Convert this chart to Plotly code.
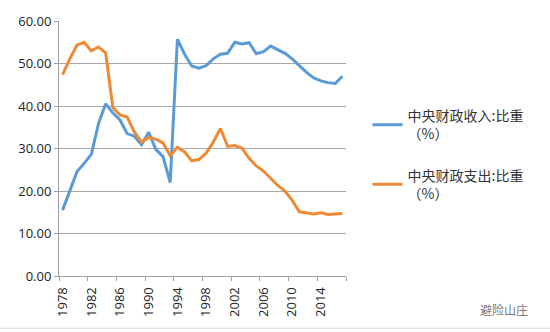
import plotly.graph_objects as go

years = list(range(1978, 2018))
revenue_share = [15.5, 20.2, 24.5, 26.5, 28.6, 35.8, 40.5, 38.4, 36.7, 33.5,
                 32.9, 30.9, 33.8, 29.8, 28.1, 22.0, 55.7, 52.2, 49.4, 48.9,
                 49.5, 51.1, 52.2, 52.4, 55.0, 54.6, 54.9, 52.3, 52.8, 54.1,
                 53.3, 52.4, 51.1, 49.4, 47.9, 46.6, 45.9, 45.5, 45.3, 47.0]
expenditure_share = [47.4, 51.1, 54.3, 55.0, 53.0, 53.9, 52.5, 39.7, 37.9, 37.4,
                     33.9, 31.5, 32.6, 32.2, 31.3, 28.3, 30.3, 29.2, 27.1, 27.4,
                     28.9, 31.5, 34.7, 30.5, 30.7, 30.1, 27.7, 25.9, 24.7, 23.0,
                     21.3, 20.0, 17.8, 15.1, 14.9, 14.6, 14.9, 14.5, 14.6, 14.7]
x_labels = [str(y) for y in range(1978, 2018, 4)]
y_ticks = [0, 10, 20, 30, 40, 50, 60]
series_names = ["中央财政收入:比重<br>（%）", "中央财政支出:比重<br>（%）"]

fig = go.Figure()
fig.add_trace(go.Scatter(x=years, y=revenue_share, mode="lines", name=series_names[0],
                         legendgroup="a", line=dict(color="#5b9bd5", width=3)))
fig.add_trace(go.Scatter(x=years, y=expenditure_share, mode="lines", name=series_names[1],
                         legendgroup="b", line=dict(color="#ed8a35", width=3)))

fig.update_layout(
    width=550, height=332,
    margin=dict(l=59, r=204, t=12, b=56),
    paper_bgcolor="white", plot_bgcolor="white",
    font=dict(family="Noto Sans CJK SC", color="#222222"),
    legend=dict(x=1.075, y=0.69, xanchor="left", yanchor="top",
                font=dict(size=14, family="Noto Sans CJK SC", color="#333333"),
                traceorder="grouped", tracegroupgap=20, itemwidth=30),
    xaxis=dict(range=[1977.5, 2017.5], tickmode="array",
               tickvals=[int(v) for v in x_labels], ticktext=x_labels,
               tickangle=-90, ticks="", showgrid=False, zeroline=False,
               showline=True, linecolor="#a0a0a0", linewidth=1,
               ticklabelstandoff=5,
               tickfont=dict(size=13, family="Open Sans", color="#222222"),
               minor=dict(tickmode="linear", tick0=1977.5, dtick=4, ticks="outside",
                          ticklen=4, tickcolor="#a0a0a0", showgrid=False)),
    yaxis=dict(range=[0, 60], tickmode="array", tickvals=y_ticks,
               ticktext=[f"{v:.2f}" for v in y_ticks],
               showgrid=True, gridcolor="#a8a8a8", gridwidth=1, zeroline=False,
               showline=True, linecolor="#a0a0a0", linewidth=1,
               ticks="outside", ticklen=4, tickcolor="#a0a0a0",
               tickfont=dict(size=13, family="Open Sans", color="#222222")),
    showlegend=True,
)

fig.add_annotation(xref="paper", yref="paper", x=1.46, y=-0.13, xanchor="left",
                   yanchor="middle", showarrow=False, text="避险山庄",
                   font=dict(size=12, color="#777777", family="Noto Sans CJK SC"))
fig.add_shape(type="line", xref="paper", yref="paper", x0=-0.21, x1=1.72,
              y0=-0.205, y1=-0.205, line=dict(color="#dddddd", width=1))

fig.write_html("out.html")
